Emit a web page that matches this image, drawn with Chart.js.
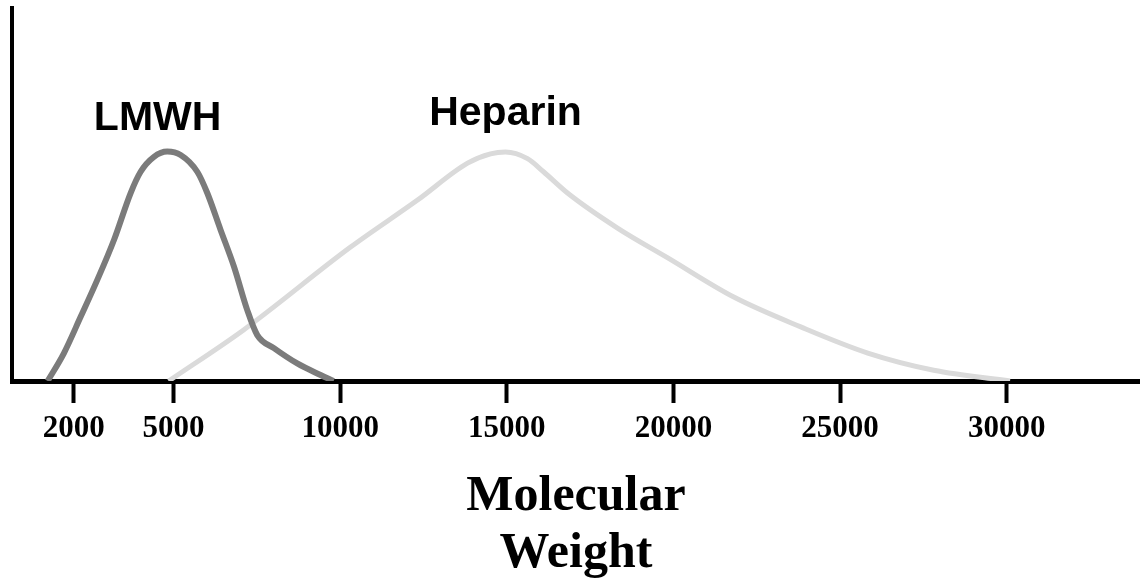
<!DOCTYPE html>
<html>
<head>
<meta charset="utf-8">
<title>LMWH vs Heparin molecular weight</title>
<script src="https://cdn.jsdelivr.net/npm/chart.js@4/dist/chart.umd.min.js"></script>
<style>
    html, body
    {
        margin: 0;
        padding: 0;
        background: #ffffff;
    }
    #chartCanvas
    {
        display: block;
    }
</style>
</head>
<body>
<canvas id="chartCanvas" width="1140" height="583"></canvas>
<script>
"use strict";

// Molecular weight (x) and relative amount (y, 0..100).
var lmwhWeight = [1220, 1710, 2210, 2710, 3210, 3710, 4010, 4410, 4810, 5210, 5710, 6010, 6410, 6810, 7210, 7510, 8010, 8710, 9410, 9800];
var lmwhAmount = [0, 7.5, 17.2, 27.1, 37.8, 50.4, 56.1, 60.1, 61.5, 60.6, 56.1, 50.4, 40.5, 30.7, 19.0, 12.3, 8.8, 4.7, 1.6, 0];

var heparinWeight = [4850, 7100, 10310, 12320, 13820, 14510, 14960, 15620, 16100, 16820, 18320, 19830, 21810, 23820, 25830, 27810, 30100];
var heparinAmount = [0, 13.7, 35.9, 48.5, 58.4, 60.9, 61.4, 59.6, 56.1, 50.4, 41.0, 33.0, 22.5, 14.5, 7.5, 2.9, 0];

var tickValues = [2000, 5000, 10000, 15000, 20000, 25000, 30000];
var axisTitle = ["Molecular", "Weight"];

var seriesLabels = ["LMWH", "Heparin"];
var labelWeight = [4520, 14960];
var labelAmount = [67.3, 68.6];

function toPoints(xs, ys)
{
    return xs.map(function(x, i)
    {
        return { x: x, y: ys[i] };
    });
}

var seriesLabelPlugin =
{
    id: "seriesLabels",
    afterDatasetsDraw: function(chart)
    {
        var ctx = chart.ctx;
        var xScale = chart.scales.x;
        var yScale = chart.scales.y;
        ctx.save();
        ctx.fillStyle = "#000000";
        ctx.font = "bold 41px 'Liberation Sans', Arial, sans-serif";
        ctx.textAlign = "center";
        ctx.textBaseline = "alphabetic";
        seriesLabels.forEach(function(text, i)
        {
            ctx.fillText(text, xScale.getPixelForValue(labelWeight[i]), yScale.getPixelForValue(labelAmount[i]));
        });
        ctx.restore();
    }
};

var ctx = document.getElementById("chartCanvas").getContext("2d");
var chart = new Chart(ctx,
{
    type: "line",
    data:
    {
        datasets: [
        {
            label: seriesLabels[0],
            data: toPoints(lmwhWeight, lmwhAmount),
            borderColor: "#7b7b7b",
            borderWidth: 6,
            pointRadius: 0,
            cubicInterpolationMode: "monotone",
            fill: false
        },
        {
            label: seriesLabels[1],
            data: toPoints(heparinWeight, heparinAmount),
            borderColor: "#dadada",
            borderWidth: 5,
            pointRadius: 0,
            cubicInterpolationMode: "monotone",
            fill: false
        }]
    },
    options:
    {
        responsive: false,
        animation: false,
        layout:
        {
            padding: { top: 8, left: 12, right: 0, bottom: 0 }
        },
        plugins:
        {
            legend: { display: false },
            tooltip: { enabled: false }
        },
        scales:
        {
            x:
            {
                type: "linear",
                min: 150,
                max: 34000,
                afterBuildTicks: function(scale)
                {
                    scale.ticks = tickValues.map(function(v)
                    {
                        return { value: v };
                    });
                },
                afterFit: function(scale)
                {
                    scale.height = 202;
                },
                border: { display: true, color: "#000000", width: 5 },
                grid:
                {
                    display: true,
                    drawOnChartArea: false,
                    drawTicks: true,
                    tickLength: 22,
                    tickWidth: 4,
                    tickColor: "#000000"
                },
                ticks:
                {
                    autoSkip: false,
                    maxRotation: 0,
                    padding: 7,
                    color: "#000000",
                    font: { family: "'Liberation Serif', 'Times New Roman', serif", size: 31, weight: "bold" },
                    callback: function(value)
                    {
                        return String(value);
                    }
                },
                title:
                {
                    display: true,
                    text: axisTitle,
                    color: "#000000",
                    padding: 0,
                    font: { family: "'Liberation Serif', 'Times New Roman', serif", size: 50, weight: "bold", lineHeight: 1.15 }
                }
            },
            y:
            {
                type: "linear",
                min: 0,
                max: 100,
                afterFit: function(scale)
                {
                    scale.width = 0;
                },
                border: { display: true, color: "#000000", width: 4 },
                grid: { display: false, drawTicks: false },
                ticks: { display: false }
            }
        }
    },
    plugins: [seriesLabelPlugin]
});
</script>
</body>
</html>
